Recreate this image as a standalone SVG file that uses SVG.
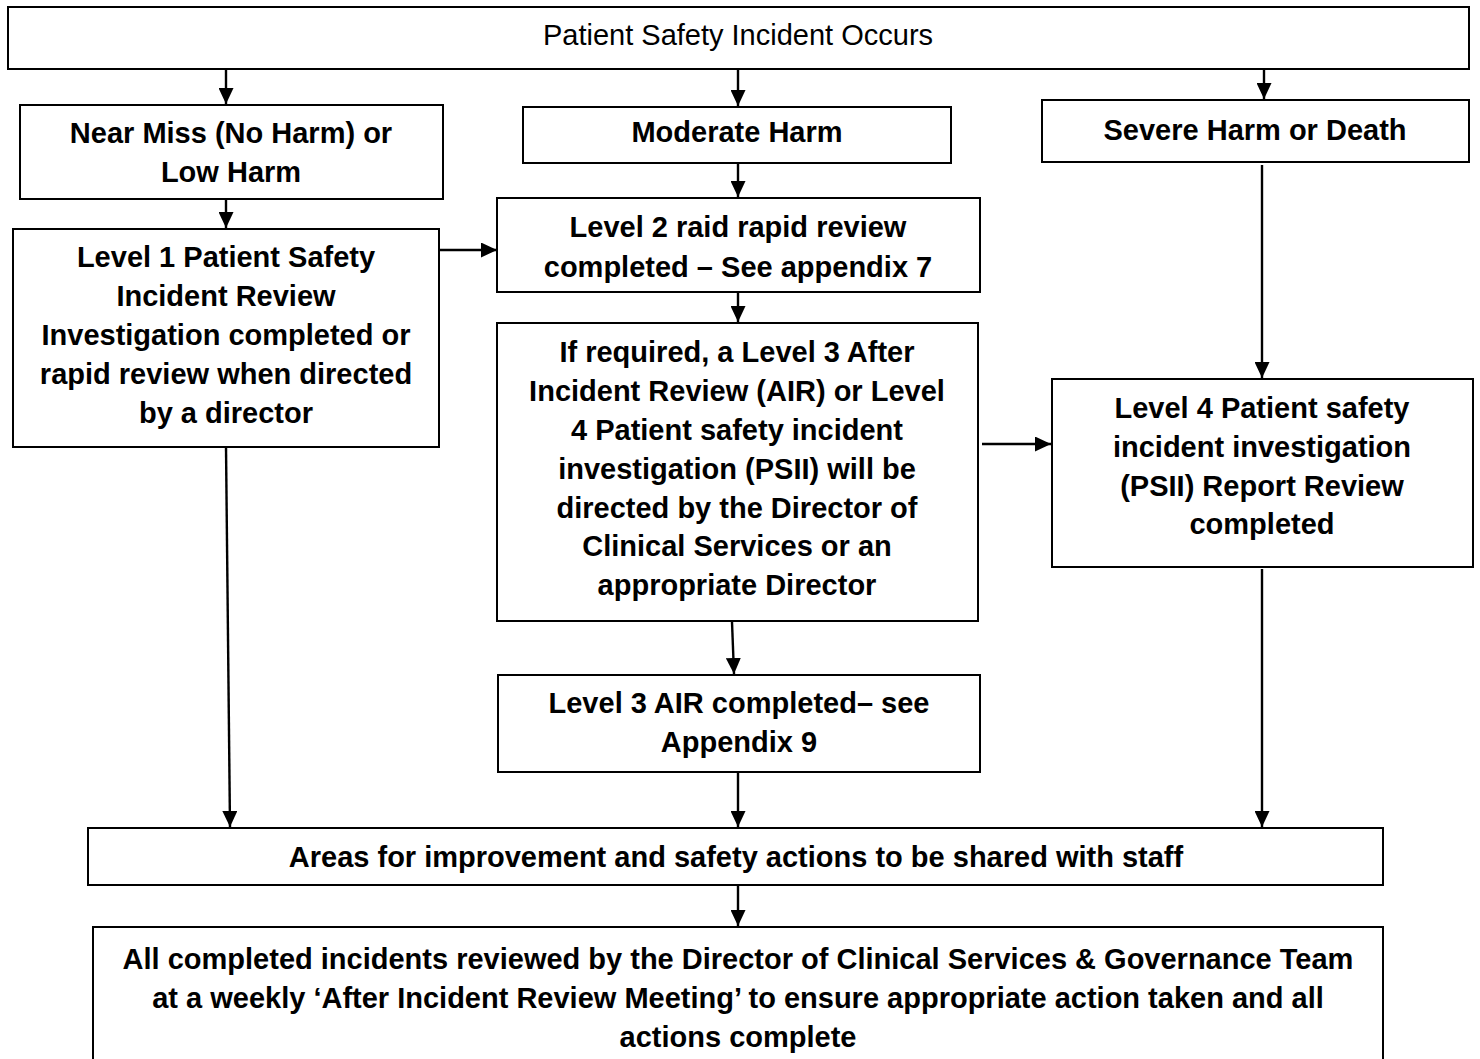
<svg xmlns="http://www.w3.org/2000/svg" width="1480" height="1059" viewBox="0 0 1480 1059">
  <style>
    .box { fill: #ffffff; stroke: #000000; stroke-width: 2; }
    .t { font-family: "Liberation Sans", Arial, sans-serif; font-size: 29px; font-weight: bold; fill: #000000; text-anchor: middle; }
    .tn { font-family: "Liberation Sans", Arial, sans-serif; font-size: 29px; font-weight: normal; fill: #000000; text-anchor: middle; }
    .c { stroke: #000000; stroke-width: 2.4; fill: none; marker-end: url(#ah); }
  </style>
  <defs>
    <marker id="ah" markerUnits="userSpaceOnUse" markerWidth="16" markerHeight="15" refX="16" refY="7.5" orient="auto">
      <path d="M0,0 L16,7.5 L0,15 Z" fill="#000000"/>
    </marker>
  </defs>
  <rect x="0" y="0" width="1480" height="1059" fill="#ffffff"/>

  <g id="connectors">
    <line class="c" x1="226" y1="70" x2="226" y2="104"/>
    <line class="c" x1="738" y1="70" x2="738" y2="106"/>
    <line class="c" x1="1264" y1="70" x2="1264" y2="99"/>
    <line class="c" x1="226" y1="199" x2="226" y2="228"/>
    <line class="c" x1="738" y1="163" x2="738" y2="197"/>
    <line class="c" x1="439" y1="250" x2="497" y2="250"/>
    <line class="c" x1="738" y1="292" x2="738" y2="322"/>
    <line class="c" x1="982" y1="444" x2="1051" y2="444"/>
    <line class="c" x1="1262" y1="165" x2="1262" y2="378"/>
    <line class="c" x1="732" y1="622" x2="734" y2="674"/>
    <line class="c" x1="226" y1="447" x2="230" y2="827"/>
    <line class="c" x1="738" y1="772" x2="738" y2="827"/>
    <line class="c" x1="1262" y1="569" x2="1262" y2="827"/>
    <line class="c" x1="738" y1="886" x2="738" y2="926"/>
  </g>

  <g id="n-occurs">
    <rect class="box" x="8" y="7" width="1461" height="62"/>
    <text class="tn" x="738" y="45">Patient Safety Incident Occurs</text>
  </g>

  <g id="n-nearmiss">
    <rect class="box" x="20" y="105" width="423" height="94"/>
    <text class="t" x="231" y="143">Near Miss (No Harm) or</text>
    <text class="t" x="231" y="182">Low Harm</text>
  </g>

  <g id="n-moderate">
    <rect class="box" x="523" y="107" width="428" height="56"/>
    <text class="t" x="737" y="142">Moderate Harm</text>
  </g>

  <g id="n-severe">
    <rect class="box" x="1042" y="100" width="427" height="62"/>
    <text class="t" x="1255" y="140">Severe Harm or Death</text>
  </g>

  <g id="n-level1">
    <rect class="box" x="13" y="229" width="426" height="218"/>
    <text class="t" x="226" y="267">Level 1 Patient Safety</text>
    <text class="t" x="226" y="306">Incident Review</text>
    <text class="t" x="226" y="345">Investigation completed or</text>
    <text class="t" x="226" y="384">rapid review when directed</text>
    <text class="t" x="226" y="423">by a director</text>
  </g>

  <g id="n-level2">
    <rect class="box" x="497" y="198" width="483" height="94"/>
    <text class="t" x="738" y="237">Level 2 raid rapid review</text>
    <text class="t" x="738" y="277">completed – See appendix 7</text>
  </g>

  <g id="n-ifrequired">
    <rect class="box" x="497" y="323" width="481" height="298"/>
    <text class="t" x="737" y="362">If required, a Level 3 After</text>
    <text class="t" x="737" y="401">Incident Review (AIR) or Level</text>
    <text class="t" x="737" y="440">4 Patient safety incident</text>
    <text class="t" x="737" y="479">investigation (PSII) will be</text>
    <text class="t" x="737" y="518">directed by the Director of</text>
    <text class="t" x="737" y="556">Clinical Services or an</text>
    <text class="t" x="737" y="595">appropriate Director</text>
  </g>

  <g id="n-level4">
    <rect class="box" x="1052" y="379" width="421" height="188"/>
    <text class="t" x="1262" y="418">Level 4 Patient safety</text>
    <text class="t" x="1262" y="457">incident investigation</text>
    <text class="t" x="1262" y="496">(PSII) Report Review</text>
    <text class="t" x="1262" y="534">completed</text>
  </g>

  <g id="n-level3">
    <rect class="box" x="498" y="675" width="482" height="97"/>
    <text class="t" x="739" y="713">Level 3 AIR completed– see</text>
    <text class="t" x="739" y="752">Appendix 9</text>
  </g>

  <g id="n-areas">
    <rect class="box" x="88" y="828" width="1295" height="57"/>
    <text class="t" x="736" y="867">Areas for improvement and safety actions to be shared with staff</text>
  </g>

  <g id="n-final">
    <rect class="box" x="93" y="927" width="1290" height="145"/>
    <text class="t" x="738" y="969">All completed incidents reviewed by the Director of Clinical Services &amp; Governance Team</text>
    <text class="t" x="738" y="1008">at a weekly ‘After Incident Review Meeting’ to ensure appropriate action taken and all</text>
    <text class="t" x="738" y="1047">actions complete</text>
  </g>
</svg>
